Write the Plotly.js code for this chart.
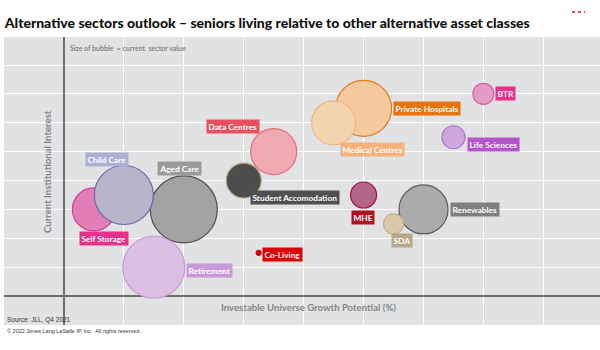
<!DOCTYPE html>
<html>
<head>
<meta charset="utf-8">
<script src="https://cdn.plot.ly/plotly-3.0.1.min.js"></script>
<style>html,body{margin:0;padding:0;background:#fff;}#chart{width:600px;height:350px;}</style>
</head>
<body>
<div id="chart"></div>
<script>
// ---- data ----
var sectors = ["Self Storage","Aged Care","Child Care","Retirement","Student Accomodation","Data Centres","Co-Living","Private Hospitals","Medical Centres","BTR","Life Sciences","MHE","Renewables","SDA"];
var growthPotential = [0.5, 2, 1, 1.5, 3, 3.5, 3.25, 5, 4.5, 7, 6.5, 5, 6, 5.5];
var institutionalInterest = [3, 3, 3.5, 1, 4, 5, 1.5, 6.5, 6, 7, 5.5, 3.5, 3, 2.5];
var sectorValue = [43, 67, 59, 62, 35, 46, 5, 56, 44, 21, 23, 26, 49, 20];

// ---- styles ----
var fillColors = ["#e07fb6","#a3a3a3","#b7b5c9","#dcc0e3","#4d4d4d","#f1aab2","#d40000","#f3c99d","#f4d4b0","#e39ac6","#cda6dd","#b3668a","#ababab","#d9cbaa"];
var lineColors = ["#d63d8f","#505050","#6c66a6","#c59bd3","#b9a98a","#e36c7a","#d40000","#e27a1b","#f2b57e","#d8609f","#a774c4","#a3123e","#5c5c5c","#c0b08d"];
var labelColors = ["#e8308c","#9b9b9b","#b1aed6","#c89ad9","#505050","#ea4f5f","#e10000","#e8720c","#f6b27a","#ea2f8c","#b455cc","#b0111f","#7f7f7f","#b8a888"];
// label offsets in px (dx right, dy up) from bubble centre
var labelDx = [10.5, -4.5, -16.5, 56, 51.5, -40.5, 24, 63, 39, 22.5, 40.5, -1, 51, 8.5];
var labelDy = [-29.5, 41, 36, -3.5, -17, 25, -1.5, 0, -26.5, 0, -7, -22, 0, -17];

var trace = {
  type: "scatter", mode: "markers",
  x: growthPotential, y: institutionalInterest, text: sectors,
  hoverinfo: "text",
  marker: {
    size: sectorValue, sizemode: "diameter", sizeref: 1,
    color: fillColors, opacity: 1,
    line: {color: lineColors, width: 1.2}
  },
  showlegend: false
};

// plot area in px: x 4..600, y 37..325
function px(v){ return (v-4)/596; }
function py(v){ return (325-v)/288; }

var ann = [];
for (var i=0;i<sectors.length;i++){
  ann.push({
    x: growthPotential[i], y: institutionalInterest[i], xref:"x", yref:"y",
    xshift: labelDx[i], yshift: labelDy[i],
    text: sectors[i], showarrow:false,
    bgcolor: labelColors[i], borderpad: 1.5,
    font: {family:"Lato, 'Open Sans', sans-serif", size: 8.3, color:"#ffffff", weight: 700},
    xanchor:"center", yanchor:"middle"
  });
}
ann.push({xref:"paper", yref:"paper", x: px(68), y: py(48), xanchor:"left", yanchor:"middle",
  text:"Size of bubble  = current  sector value", showarrow:false,
  font:{family:"Lato, sans-serif", size:7, color:"#7a7a7a", weight:600}});
ann.push({xref:"paper", yref:"paper", x: px(308), y: py(307), xanchor:"center", yanchor:"middle",
  text:"Investable Universe Growth Potential (%)", showarrow:false,
  font:{family:"Lato, sans-serif", size:9.6, color:"#858585", weight:700}});
ann.push({xref:"paper", yref:"paper", x: px(47), y: py(172), xanchor:"center", yanchor:"middle",
  text:"Current Institutional Interest", showarrow:false, textangle:-90,
  font:{family:"Lato, sans-serif", size:9.6, color:"#858585", weight:700}});
ann.push({xref:"paper", yref:"paper", x: px(5), y: py(320), xanchor:"left", yanchor:"middle",
  text:"Source: JLL, Q4 2021", showarrow:false,
  font:{family:"'Liberation Sans', Arial, sans-serif", size:6.5, color:"#333333"}});
ann.push({xref:"paper", yref:"paper", x: px(5), y: py(331), xanchor:"left", yanchor:"middle",
  text:"© 2022 Jones Lang LaSalle IP, Inc.  All rights reserved.", showarrow:false,
  font:{family:"'Liberation Sans', Arial, sans-serif", size:5.5, color:"#333333"}});

var layout = {
  width: 600, height: 350,
  margin: {l:4, r:0, t:37, b:25, pad:0},
  paper_bgcolor: "#ffffff",
  plot_bgcolor: "#e1e2e4",
  title: {
    text: "Alternative sectors outlook – seniors living relative to other alternative asset classes",
    x: 0.008, xanchor: "left", xref: "container",
    y: 0.935, yanchor: "middle", yref: "container",
    font: {family: "Lato, 'Open Sans', sans-serif", size: 14, color: "#111111", weight: 900}
  },
  xaxis: {range:[-1, 8.945], dtick:1, tick0:0, showgrid:true, gridcolor:"#ffffff", gridwidth:1,
          zeroline:true, zerolinecolor:"#6e6e6e", zerolinewidth:2, showticklabels:false, ticks:"", showline:false, fixedrange:true},
  yaxis: {range:[-1, 8.97], dtick:1, tick0:0, showgrid:true, gridcolor:"#ffffff", gridwidth:1,
          zeroline:true, zerolinecolor:"#6e6e6e", zerolinewidth:2, showticklabels:false, ticks:"", showline:false, fixedrange:true},
  annotations: ann,
  shapes: [
    {type:"line", xref:"paper", yref:"paper", x0:px(572), x1:px(585), y0:py(12), y1:py(12),
     line:{color:"#d0102a", width:1.5, dash:"dot"}}
  ],
  hovermode: false
};

Plotly.newPlot("chart", [trace], layout, {displayModeBar:false, staticPlot:true});
</script>
</body>
</html>
